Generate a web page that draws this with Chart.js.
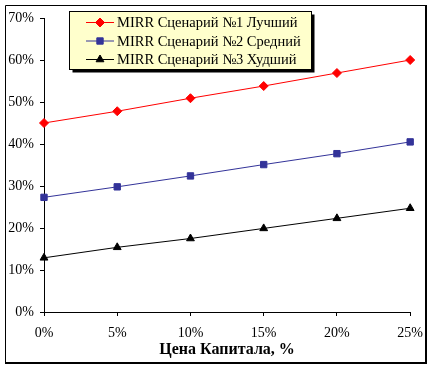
<!DOCTYPE html>
<html>
<head>
<meta charset="utf-8">
<script src="https://cdn.jsdelivr.net/npm/chart.js@4.4.1/dist/chart.umd.min.js"></script>
<style>
  body { margin: 0; background: #fff; }
  #wrap { position: relative; width: 432px; height: 369px; }
</style>
</head>
<body>
<div id="wrap"><canvas id="chart" width="432" height="369"></canvas></div>
<script>
// данные с графика (MIRR, %)
const categories = ['0%', '5%', '10%', '15%', '20%', '25%'];
const seriesNames = ['MIRR Сценарий №1 Лучший', 'MIRR Сценарий №2 Средний', 'MIRR Сценарий №3 Худший'];
const bestValues = [45.0, 47.8, 50.9, 53.8, 56.9, 60.0];
const midValues = [27.3, 29.8, 32.4, 35.1, 37.7, 40.5];
const worstValues = [12.9, 15.4, 17.5, 19.9, 22.3, 24.7];
const yMin = 0, yMax = 70, yStep = 10;
const xTitle = 'Цена Капитала, %';

const serif = '"Liberation Serif", serif';

// рамка и фон всей диаграммы
const frame = {
    id: 'frame',
    beforeDraw(chart) {
        const ctx = chart.ctx;
        ctx.save();
        ctx.fillStyle = '#fff';
        ctx.fillRect(0, 0, chart.width, chart.height);
        ctx.restore();
    },
    afterDraw(chart) {
        const ctx = chart.ctx;
        ctx.save();
        ctx.strokeStyle = '#000';
        ctx.lineWidth = 1;
        ctx.beginPath();
        ctx.moveTo(5.5, 363);
        ctx.lineTo(5.5, 5.5);
        ctx.lineTo(426, 5.5);
        ctx.stroke();
        ctx.lineWidth = 2;
        ctx.beginPath();
        ctx.moveTo(426, 5);
        ctx.lineTo(426, 363);
        ctx.lineTo(5, 363);
        ctx.stroke();
        ctx.restore();
    }
};

// легенда в жёлтой рамке с тенью
const boxLegend = {
    id: 'boxLegend',
    afterDraw(chart) {
        const ctx = chart.ctx;
        const x = 69.5, y = 11.5, w = 242, h = 58;
        ctx.save();
        ctx.fillStyle = '#000';
        ctx.fillRect(x + 3, y + 3, w, h);
        ctx.fillStyle = '#FFFFCC';
        ctx.fillRect(x, y, w, h);
        ctx.strokeStyle = '#000';
        ctx.lineWidth = 1;
        ctx.strokeRect(x, y, w, h);
        const rows = [22.5, 41, 59.5];
        chart.data.datasets.forEach((ds, i) => {
            const ry = rows[i];
            ctx.strokeStyle = ds.borderColor;
            ctx.fillStyle = ds.borderColor;
            ctx.lineWidth = 1;
            ctx.beginPath();
            ctx.moveTo(86, ry);
            ctx.lineTo(114, ry);
            ctx.stroke();
            Chart.helpers.drawPoint(ctx, {pointStyle: ds.pointStyle, radius: ds.pointRadius, borderWidth: 1}, 100, ry);
            ctx.fillStyle = '#000';
            ctx.font = '14.5px ' + serif;
            ctx.textBaseline = 'middle';
            ctx.textAlign = 'left';
            ctx.fillText(ds.label, 117, ry + 1);
        });
        ctx.restore();
    }
};

const datasets = [
    { label: seriesNames[0], data: bestValues, borderColor: '#FF0000', backgroundColor: '#FF0000', pointStyle: 'rectRot', pointRadius: 4.5 },
    { label: seriesNames[1], data: midValues, borderColor: '#333399', backgroundColor: '#333399', pointStyle: 'rect', pointRadius: 4.5 },
    { label: seriesNames[2], data: worstValues, borderColor: '#000000', backgroundColor: '#000000', pointStyle: 'triangle', pointRadius: 4.5 }
].map(d => Object.assign(d, { borderWidth: 1, pointBorderWidth: 1, tension: 0, clip: false }));

new Chart(document.getElementById('chart'), {
    type: 'line',
    data: { labels: categories, datasets: datasets },
    options: {
        responsive: false,
        animation: false,
        layout: { padding: { top: 18, right: 21, left: 0, bottom: 0 } },
        plugins: {
            legend: { display: false },
            tooltip: { enabled: false }
        },
        scales: {
            x: {
                offset: false,
                afterFit: s => { s.height = 57; },
                grid: { drawOnChartArea: false, color: '#000', tickLength: 4 },
                border: { color: '#000', width: 1 },
                ticks: { color: '#000', font: { family: serif, size: 14 }, padding: 9, maxRotation: 0 },
                title: { display: true, text: xTitle, color: '#000', font: { family: serif, size: 16, weight: 'bold' }, padding: { top: 0, bottom: 10 } }
            },
            y: {
                min: yMin,
                max: yMax,
                afterFit: s => { s.width = 44; },
                grid: { drawOnChartArea: false, color: '#000', tickLength: 4 },
                border: { color: '#000', width: 1 },
                ticks: { stepSize: yStep, color: '#000', font: { family: serif, size: 14 }, padding: 6, callback: v => v + '%' }
            }
        }
    },
    plugins: [frame, boxLegend]
});
</script>
</body>
</html>
